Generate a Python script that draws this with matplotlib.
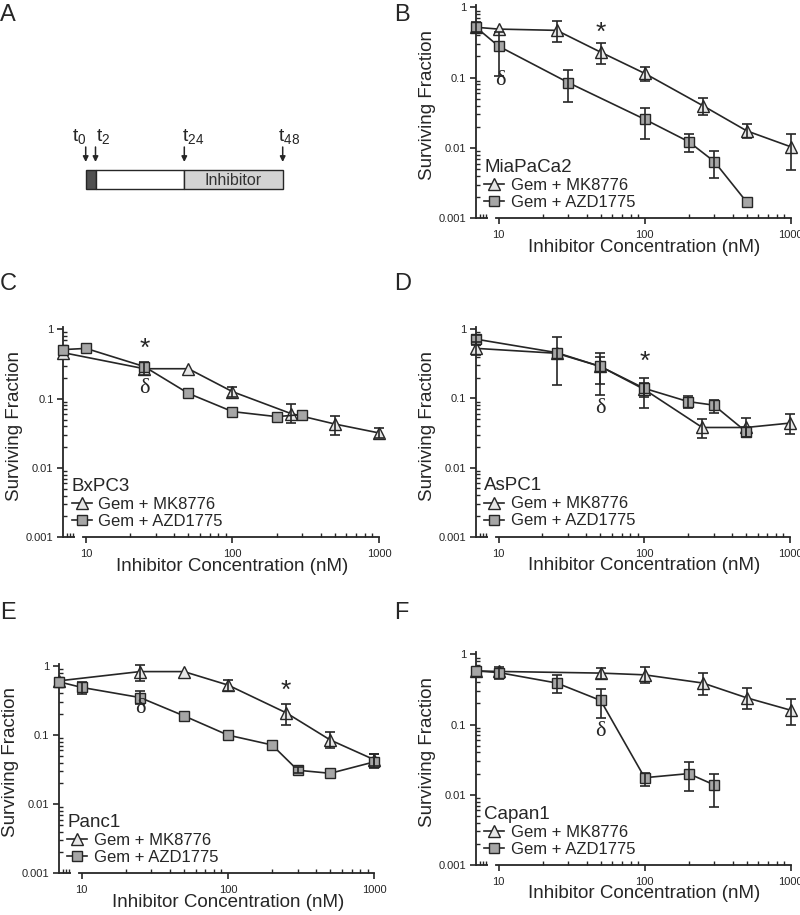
import numpy as np
import matplotlib
matplotlib.use("Agg")
import matplotlib.pyplot as plt
from matplotlib.lines import Line2D
from matplotlib.patches import Rectangle
from matplotlib.ticker import FixedLocator, FuncFormatter, NullFormatter, LogLocator

plt.rcParams['font.family'] = ['Liberation Sans', 'DejaVu Sans']
plt.rcParams['mathtext.fontset'] = 'custom'
plt.rcParams['mathtext.rm'] = 'Liberation Sans'
plt.rcParams['mathtext.it'] = 'Liberation Sans:italic'
plt.rcParams['mathtext.default'] = 'regular'

nan = np.nan
# x = 7 marks the untreated control (gemcitabine only), drawn on the y-axis
CONTROL_X = 7

# ---------------- Panel B : MiaPaCa2 ----------------
b_mk_x = [CONTROL_X, 10, 25, 50, 100, 250, 500, 1000]
b_mk_y = [0.52, 0.49, 0.47, 0.23, 0.115, 0.040, 0.0175, 0.0104]
b_mk_lo = [nan, nan, 0.32, 0.155, 0.09, 0.029, 0.0137, 0.0049]
b_mk_hi = [nan, nan, 0.64, 0.31, 0.14, 0.052, 0.0218, 0.0157]
b_az_x = [CONTROL_X, 10, 30, 100, 200, 300, 500]
b_az_y = [0.52, 0.28, 0.085, 0.0256, 0.0123, 0.0064, 0.0017]
b_az_lo = [0.45, 0.106, 0.045, 0.0135, 0.0087, 0.0038, nan]
b_az_hi = [0.62, 0.45, 0.128, 0.0375, 0.0157, 0.009, nan]
b_star = (50, 0.44)
b_delta = (10.3, 0.09)

# ---------------- Panel C : BxPC3 ----------------
c_mk_x = [CONTROL_X, 25, 50, 100, 250, 500, 1000]
c_mk_y = [0.46, 0.27, 0.27, 0.126, 0.061, 0.043, 0.032]
c_mk_lo = [nan, 0.22, nan, 0.107, 0.044, 0.030, 0.027]
c_mk_hi = [nan, 0.34, nan, 0.146, 0.083, 0.056, 0.038]
c_az_x = [CONTROL_X, 10, 25, 50, 100, 200, 300]
c_az_y = [0.51, 0.53, 0.29, 0.119, 0.065, 0.055, 0.059]
c_az_lo = [nan, nan, nan, nan, nan, nan, nan]
c_az_hi = [nan, nan, nan, nan, nan, nan, nan]
c_star = (25, 0.53)
c_delta = (25, 0.14)

# ---------------- Panel D : AsPC1 ----------------
d_mk_x = [CONTROL_X, 25, 50, 100, 250, 500, 1000]
d_mk_y = [0.53, 0.45, 0.29, 0.135, 0.038, 0.038, 0.044]
d_mk_lo = [0.42, 0.157, 0.112, 0.072, 0.027, 0.028, 0.031]
d_mk_hi = [0.66, 0.77, 0.46, 0.20, 0.050, 0.052, 0.060]
d_az_x = [CONTROL_X, 25, 50, 100, 200, 300, 500]
d_az_y = [0.72, 0.46, 0.29, 0.14, 0.09, 0.08, 0.033]
d_az_lo = [0.60, nan, 0.16, 0.106, 0.072, 0.061, 0.028]
d_az_hi = [0.82, nan, 0.40, 0.17, 0.108, 0.095, 0.038]
d_star = (100, 0.34)
d_delta = (50, 0.072)

# ---------------- Panel E : Panc1 ----------------
e_mk_x = [CONTROL_X, 25, 50, 100, 250, 500, 1000]
e_mk_y = [0.61, 0.83, 0.83, 0.53, 0.21, 0.085, 0.044]
e_mk_lo = [nan, 0.61, nan, 0.43, 0.14, 0.066, 0.036]
e_mk_hi = [nan, 1.03, nan, 0.63, 0.28, 0.11, 0.054]
e_az_x = [CONTROL_X, 10, 25, 50, 100, 200, 300, 500, 1000]
e_az_y = [0.59, 0.49, 0.35, 0.19, 0.10, 0.072, 0.031, 0.028, 0.041]
e_az_lo = [nan, 0.39, 0.28, nan, nan, nan, 0.028, nan, 0.033]
e_az_hi = [nan, 0.59, 0.43, nan, nan, nan, 0.034, nan, 0.054]
e_star = (250, 0.43)
e_delta = (25, 0.24)

# ---------------- Panel F : Capan1 ----------------
f_mk_x = [CONTROL_X, 10, 50, 100, 250, 500, 1000]
f_mk_y = [0.58, 0.57, 0.54, 0.51, 0.39, 0.24, 0.16]
f_mk_lo = [nan, nan, 0.45, 0.39, 0.26, 0.166, 0.098]
f_mk_hi = [nan, nan, 0.64, 0.65, 0.54, 0.33, 0.23]
f_az_x = [CONTROL_X, 10, 25, 50, 100, 200, 300]
f_az_y = [0.58, 0.55, 0.39, 0.22, 0.0175, 0.020, 0.0138]
f_az_lo = [nan, 0.45, 0.28, 0.125, 0.0135, 0.0113, 0.0068]
f_az_hi = [nan, 0.65, 0.50, 0.32, 0.0207, 0.029, 0.020]
f_star = None
f_delta = (50, 0.079)

series_labels = ['Gem + MK8776', 'Gem + AZD1775']
y_ticks = [0.001, 0.01, 0.1, 1]
x_ticks = [10, 100, 1000]
x_label = 'Inhibitor Concentration (nM)'
y_label = 'Surviving Fraction'

INK = '#262626'
TRI_FC = '#e6e6e6'
SQ_FC = '#a6a6a6'

W, H = 800, 915
fig = plt.figure(figsize=(W / 100, H / 100), dpi=100)

YTOP = 1.08


def make_axes(L, R, Y1, Yb):
    dec = (Yb - Y1) / 3.0
    top = Y1 - dec * np.log10(YTOP)
    return fig.add_axes([L / W, 1 - Yb / H, (R - L) / W, (Yb - top) / H])


def draw_panel(ax, name, mk, az, star, delta):
    ax.set_xscale('log')
    ax.set_yscale('log')
    ax.set_xlim(7, 1000)
    ax.set_ylim(0.001, YTOP)
    for s in ['top', 'right']:
        ax.spines[s].set_visible(False)
    for s in ['left', 'bottom']:
        ax.spines[s].set_linewidth(1.3)
        ax.spines[s].set_color(INK)
    ax.spines['bottom'].set_bounds(9.6, 1000)
    # short stub of the broken x axis at the control position
    ax.plot([7, 8.4], [0, 0], color=INK, lw=1.3, transform=ax.get_xaxis_transform(),
            clip_on=False, solid_capstyle='butt')

    ax.xaxis.set_major_locator(FixedLocator(x_ticks))
    ax.xaxis.set_major_formatter(FuncFormatter(lambda v, p: '%d' % v))
    minor_x = [7.4, 7.8, 8.2] + list(range(20, 100, 10)) + list(range(200, 1000, 100))
    ax.xaxis.set_minor_locator(FixedLocator(minor_x))
    ax.xaxis.set_minor_formatter(NullFormatter())
    ax.yaxis.set_major_locator(FixedLocator(y_ticks))
    ax.yaxis.set_major_formatter(FuncFormatter(lambda v, p: '%g' % v))
    ax.yaxis.set_minor_locator(LogLocator(base=10, subs=np.arange(2, 10)))
    ax.yaxis.set_minor_formatter(NullFormatter())
    ax.tick_params(which='major', direction='out', length=4.5, width=1.2, colors=INK,
                   labelsize=8, pad=2.5)
    ax.tick_params(which='minor', direction='in', length=3, width=1.0, colors=INK)
    ax.tick_params(axis='x', which='major', pad=4)

    ax.set_xlabel(x_label, fontsize=13.5, color=INK, labelpad=-1)
    ax.xaxis.label.set_x(0.535)
    ax.set_ylabel(y_label, fontsize=13.5, color=INK, labelpad=2)
    ax.yaxis.label.set_y(0.53)

    for (x, y, lo, hi), marker, fc, ms in [(mk, '^', TRI_FC, 8), (az, 's', SQ_FC, 6.5)]:
        x = np.asarray(x, float)
        y = np.asarray(y, float)
        lo = np.asarray(lo, float)
        hi = np.asarray(hi, float)
        ax.plot(x, y, '-', color=INK, lw=1.2, marker=marker, ms=ms, mfc=fc, mec=INK,
                mew=1.0, clip_on=False, zorder=3)
        m = np.isfinite(lo) & np.isfinite(hi)
        if m.any():
            ax.errorbar(x[m], y[m], yerr=[y[m] - lo[m], hi[m] - y[m]], fmt='none',
                        ecolor=INK, elinewidth=1.2, capsize=3.5, capthick=1.2,
                        clip_on=False, zorder=4)

    if star is not None:
        ax.text(star[0], star[1], '*', ha='center', va='center', fontsize=19, color=INK)
    if delta is not None:
        ax.text(delta[0], delta[1], 'δ', ha='center', va='center', fontsize=16,
                color=INK, family=['Liberation Serif', 'DejaVu Serif'])

    handles = [
        Line2D([], [], color=INK, lw=1.2, marker='^', ms=8, mfc=TRI_FC, mec=INK, mew=1.0),
        Line2D([], [], color=INK, lw=1.2, marker='s', ms=6.5, mfc=SQ_FC, mec=INK, mew=1.0),
    ]
    leg = ax.legend(handles, series_labels, loc='lower left', bbox_to_anchor=(0.0, 0.0),
                    frameon=False, fontsize=12, title=name, title_fontsize=13.5,
                    alignment='left', handlelength=1.2, handletextpad=0.4,
                    labelspacing=0.12, borderpad=0.2, borderaxespad=0.3)
    leg.get_title().set_color(INK)
    for t in leg.get_texts():
        t.set_color(INK)


axB = make_axes(476, 790.7, 7.3, 218.3)
draw_panel(axB, 'MiaPaCa2', (b_mk_x, b_mk_y, b_mk_lo, b_mk_hi),
           (b_az_x, b_az_y, b_az_lo, b_az_hi), b_star, b_delta)
axC = make_axes(63.3, 379, 329.3, 537.3)
draw_panel(axC, 'BxPC3', (c_mk_x, c_mk_y, c_mk_lo, c_mk_hi),
           (c_az_x, c_az_y, c_az_lo, c_az_hi), c_star, c_delta)
axD = make_axes(476, 790, 329.3, 536.7)
draw_panel(axD, 'AsPC1', (d_mk_x, d_mk_y, d_mk_lo, d_mk_hi),
           (d_az_x, d_az_y, d_az_lo, d_az_hi), d_star, d_delta)
axE = make_axes(59, 374.3, 666, 873.3)
draw_panel(axE, 'Panc1', (e_mk_x, e_mk_y, e_mk_lo, e_mk_hi),
           (e_az_x, e_az_y, e_az_lo, e_az_hi), e_star, e_delta)
axF = make_axes(476, 790.7, 654.3, 865)
draw_panel(axF, 'Capan1', (f_mk_x, f_mk_y, f_mk_lo, f_mk_hi),
           (f_az_x, f_az_y, f_az_lo, f_az_hi), f_star, f_delta)

# ---------------- overlay: panel letters and schematic (A) ----------------
ov = fig.add_axes([0, 0, 1, 1])
ov.set_xlim(0, W)
ov.set_ylim(H, 0)
ov.axis('off')
ov.patch.set_visible(False)

for letter, (lx, ly) in zip('ABCDEF', [(0, 15), (394, 15), (0, 284), (394, 284),
                                        (0, 613), (394, 613)]):
    ov.text(lx, ly, letter, fontsize=17, color=INK, ha='left', va='center')

# treatment timeline schematic
timeline_labels = ['t$_{0}$', 't$_{2}$', 't$_{24}$', 't$_{48}$']
tl_x = [85.7, 95.5, 184.3, 282.7]
tl_label_x = [72.5, 96.5, 181.5, 278.5]
bar_top, bar_h = 170, 19.3
ov.add_patch(Rectangle((tl_x[0], bar_top), tl_x[1] - tl_x[0], bar_h, fc='#505050', ec=INK, lw=1.0))
ov.add_patch(Rectangle((tl_x[1], bar_top), tl_x[2] - tl_x[1], bar_h, fc='white', ec=INK, lw=1.0))
ov.add_patch(Rectangle((tl_x[2], bar_top), tl_x[3] - tl_x[2], bar_h, fc='#d3d3d3', ec=INK, lw=1.0))
ov.text((tl_x[2] + tl_x[3]) / 2, bar_top + bar_h / 2 + 1, 'Inhibitor', fontsize=11.5,
        color='#333333', ha='center', va='center')
for lab, x, lx in zip(timeline_labels, tl_x, tl_label_x):
    ov.annotate('', xy=(x, 162), xytext=(x, 147),
                arrowprops=dict(arrowstyle='-|>', color=INK, lw=1.1,
                                mutation_scale=8, shrinkA=0, shrinkB=0))
    ov.text(lx, 136, lab, fontsize=14, color=INK, ha='left', va='center')

fig.savefig('out.png', dpi=100)
